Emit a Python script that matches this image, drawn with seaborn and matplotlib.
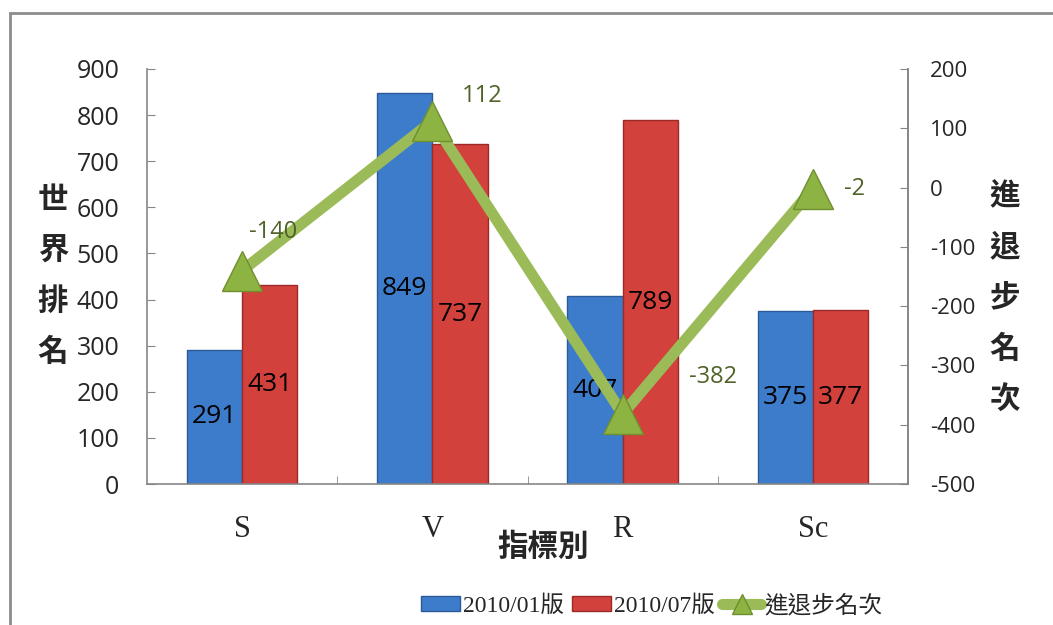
import numpy as np
import pandas as pd
import matplotlib
matplotlib.use('Agg')
from matplotlib import pyplot as plt
from matplotlib.patches import Rectangle, Patch
from matplotlib.lines import Line2D
import seaborn as sns

# data
categories = ['S', 'V', 'R', 'Sc']
rank_2010_01 = [291, 849, 407, 375]
rank_2010_07 = [431, 737, 789, 377]
rank_change = [-140, 112, -382, -2]
series_names = ['2010/01版', '2010/07版']
change_name = '進退步名次'
rank_ticks = np.arange(0, 901, 100)
change_ticks = np.arange(-500, 201, 100)

sns.set_style('white')
plt.rcParams['font.family'] = ['Open Sans', 'Noto Sans CJK TC', 'DejaVu Sans']
plt.rcParams['axes.unicode_minus'] = False

blue, blue_edge = '#3D7CCB', '#2B5A96'
red, red_edge = '#D2413C', '#9A2B28'
green, green_dark = '#9BBB59', '#7FA03C'
olive = '#4F6228'
grey = '#868686'
serif = ['Liberation Serif', 'Noto Sans CJK TC']
cjk = ['Noto Sans CJK TC']

df = pd.DataFrame({
    '指標': categories * 2,
    '排名': rank_2010_01 + rank_2010_07,
    '版': [series_names[0]] * len(categories) + [series_names[1]] * len(categories),
})

fig = plt.figure(figsize=(10.53, 6.25), dpi=100)
ax = fig.add_axes([147 / 1053, 1 - 484 / 625, 761 / 1053, 415 / 625])

sns.barplot(data=df, x='指標', y='排名', hue='版', hue_order=series_names,
            palette=[blue, red], width=0.58, saturation=1, gap=0,
            legend=False, ax=ax)
for cont, ec in zip(ax.containers, [blue_edge, red_edge]):
    for p in cont:
        p.set_edgecolor(ec)
        p.set_linewidth(1)
    ax.bar_label(cont, label_type='center', fontsize=19, color='black')

ax.set_ylim(0, 900)
ax.set_yticks(rank_ticks)
ax.set_xlim(-0.5, len(categories) - 0.5)
ax.set_xticks(np.arange(len(categories) - 1) + 0.5, minor=True)

# line on the right axis
ax2 = ax.twinx()
sns.pointplot(x=categories, y=rank_change, ax=ax2, color=green, markers='^',
              errorbar=None, linewidth=8, markersize=29,
              markerfacecolor='#8DB443', markeredgecolor='#6F8F2E',
              markeredgewidth=1)
ax2.set_ylim(-500, 200)
ax2.set_yticks(change_ticks)
ax.set_xlim(-0.5, len(categories) - 0.5)

offsets = [(22, 28), (36, 18), (65, 27), (30, 0)]
for i, v in enumerate(rank_change):
    ax2.annotate(str(v), (i, v), xytext=offsets[i], textcoords='offset points',
                 ha='center', va='center', color=olive, fontsize=17)

# spines and ticks
for s in ['top']:
    ax.spines[s].set_visible(False)
    ax2.spines[s].set_visible(False)
for s in ['left', 'bottom', 'right']:
    ax.spines[s].set_color(grey)
    ax.spines[s].set_linewidth(1.2)
ax2.spines['left'].set_visible(False)
ax2.spines['bottom'].set_visible(False)
ax2.spines['right'].set_color(grey)
ax2.spines['right'].set_linewidth(1.2)

ax.tick_params(axis='y', direction='in', length=6, color=grey, left=True,
               pad=20, labelsize=18)
ax2.tick_params(axis='y', direction='in', length=6, color=grey, right=True,
                pad=16, labelsize=16)
ax.tick_params(axis='x', which='major', length=0, pad=22, labelsize=22)
ax.tick_params(axis='x', which='minor', direction='in', length=6,
               color=grey, bottom=True)
for lab in ax.get_xticklabels():
    lab.set_fontfamily(serif)

ax.set_xlabel('指標別', fontsize=22, fontweight='bold', family=cjk, va='center')
ax.xaxis.set_label_coords((543 - 147) / 761, (484 - 547) / 415)
ax.set_ylabel('世\n界\n排\n名', rotation=0, fontsize=22, fontweight='bold',
              family=cjk, va='center', ha='center', linespacing=1.75)
ax.yaxis.set_label_coords((53 - 147) / 761, (484 - 276) / 415)
ax2.set_ylabel('進\n退\n步\n名\n次', rotation=0, fontsize=22, fontweight='bold',
               family=cjk, va='center', ha='center', linespacing=1.75)
ax2.yaxis.set_label_coords((1005 - 147) / 761, (484 - 298) / 415)

handles = [
    Patch(facecolor=blue, edgecolor=blue_edge),
    Patch(facecolor=red, edgecolor=red_edge),
    Line2D([], [], color=green, lw=8, marker='^', markersize=15,
           markerfacecolor='#8DB443', markeredgecolor='#6F8F2E'),
]
fig.legend(handles, series_names + [change_name], loc='center left',
           bbox_to_anchor=(421 / 1053, 1 - 606 / 625), ncol=3, frameon=False,
           prop={'family': serif, 'size': 17}, handlelength=1.65,
           handleheight=0.6, handletextpad=0.15, columnspacing=0.3,
           borderpad=0, borderaxespad=0)

# outer chart frame
fig.patches.append(Rectangle((10 / 1053, -0.05), 1.1, 1 - 13 / 625 + 0.05,
                             transform=fig.transFigure, fill=False,
                             ec='#8C8C8C', lw=2))

fig.savefig('out.png', dpi=100)
